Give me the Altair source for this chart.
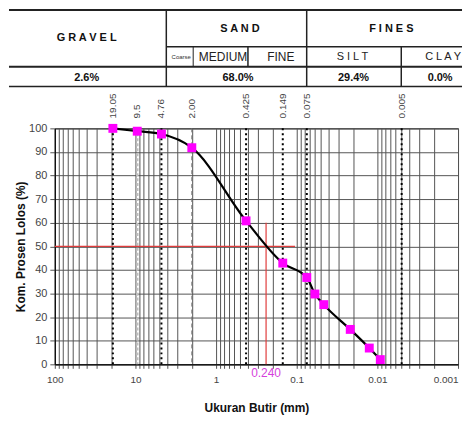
import altair as alt
import pandas as pd

FONT = "Liberation Sans"

# ---------------- data ----------------
sizes_mm = [19.05, 9.5, 4.76, 2.00, 0.425, 0.149, 0.075, 0.0595, 0.0462, 0.0217, 0.0126, 0.0092]
percent_passing = [100.0, 98.8, 97.6, 91.8, 60.8, 42.9, 36.8, 29.8, 25.3, 14.8, 6.9, 2.0]

sieve_sizes = [19.05, 9.5, 4.76, 2.00, 0.425, 0.149, 0.075, 0.005]
sieve_labels = ["19.05", "9.5", "4.76", "2.00", "0.425", "0.149", "0.075", "0.005"]
sieve_kind = ["dot", "light", "dot", "dash", "dot", "dot", "dot", "dot"]

d50_size = 0.240
d50_label = "0.240"
d50_percent = 50
d50_guide_top = 60
d50_guide_end = 0.105

y_tick_values = [0, 10, 20, 30, 40, 50, 60, 70, 80, 90, 100]
x_grid_values = [m * 10.0 ** e for e in range(-3, 2) for m in range(1, 10)] + [100.0]

header_labels = ["GRAVEL", "SAND", "FINES"]
sub_labels = ["MEDIUM", "FINE"]
sub_spaced_labels = ["SILT", "CLAY"]
coarse_label = "Coarse"
summary_labels = ["2.6%", "68.0%", "29.4%", "0.0%"]

# ---------------- table layout (reference pixel grid) ----------------
header_x = [86, 240, 392]
header_y = [35, 26, 26]
header_gap = [1, 1, 2]
sub_x = [223, 281]
spaced_x = [353, 444]
sub_y = 54
coarse_x = 181
summary_x = [86, 238, 354, 441]
summary_y = 75

t_lines = pd.DataFrame({
    "x":  [8, 166, 8, 8, 166, 307, 193, 248, 402],
    "x2": [463, 463, 463, 463, 166, 307, 193, 248, 402],
    "y":  [7, 44, 64, 84, 7, 7, 44, 44, 44],
    "y2": [7, 44, 64, 84, 84, 84, 64, 64, 84],
    "w":  [2, 1.5, 2, 1.5, 1.5, 1.5, 1, 1.5, 1.5],
})


def spaced(s, n=1):
    return (" " * n).join(list(s))


# table drawn in the same horizontal frame as the plot (plot spans 54..459)
tx = alt.Scale(domain=[54, 459], nice=False, zero=False)
ty = alt.Scale(domain=[6, 86], nice=False, zero=False, reverse=True)


def TX():
    return alt.X("x:Q", scale=tx, axis=None)


def TY():
    return alt.Y("y:Q", scale=ty, axis=None)


t_rules = alt.Chart(t_lines).mark_rule(color="#222").encode(
    x=TX(), x2="x2:Q", y=TY(), y2="y2:Q",
    strokeWidth=alt.StrokeWidth("w:Q", scale=None, legend=None),
)

hdr_df = pd.DataFrame({
    "x": header_x, "y": header_y,
    "t": [spaced(s, g) for s, g in zip(header_labels, header_gap)],
})
t_hdr = alt.Chart(hdr_df).mark_text(fontSize=11, fontWeight="bold", color="#111",
                                    baseline="middle").encode(x=TX(), y=TY(), text="t:N")

sub_df = pd.DataFrame({"x": sub_x, "y": [sub_y] * len(sub_x), "t": sub_labels})
t_sub = alt.Chart(sub_df).mark_text(fontSize=12, color="#222", baseline="middle").encode(
    x=TX(), y=TY(), text="t:N")

sp_df = pd.DataFrame({"x": spaced_x, "y": [sub_y] * len(spaced_x),
                      "t": [spaced(s) for s in sub_spaced_labels]})
t_sp = alt.Chart(sp_df).mark_text(fontSize=11, color="#222", baseline="middle").encode(
    x=TX(), y=TY(), text="t:N")

co_df = pd.DataFrame({"x": [coarse_x], "y": [sub_y], "t": [coarse_label]})
t_co = alt.Chart(co_df).mark_text(fontSize=6, color="#333", baseline="middle").encode(
    x=TX(), y=TY(), text="t:N")

sum_df = pd.DataFrame({"x": summary_x, "y": [summary_y] * len(summary_x), "t": summary_labels})
t_sum = alt.Chart(sum_df).mark_text(fontSize=11, fontWeight="bold", color="#111",
                                    baseline="middle").encode(x=TX(), y=TY(), text="t:N")

table = alt.layer(t_rules, t_hdr, t_sub, t_sp, t_co, t_sum).properties(
    width=405, height=80, view=alt.ViewBackground(stroke=None))

# ---------------- main plot ----------------
x_scale = alt.Scale(type="log", domain=[0.001, 100], reverse=True, nice=False)
y_scale = alt.Scale(domain=[0, 100], nice=False, zero=False)

x_axis = alt.Axis(
    values=x_grid_values, grid=True, gridColor="#555", gridWidth=1, gridOpacity=1,
    labelExpr="abs(log(datum.value)/LN10 - round(log(datum.value)/LN10)) < 0.001 ? format(datum.value, '~g') : ''",
    labelOverlap=False, labelFlush=False,
    labelAlign=alt.condition("datum.value < 0.0015", alt.value("right"), alt.value("center")),
    labelFontSize=10, labelColor="#444", labelPadding=6,
    tickSize=4, tickColor="#555", domainColor="#000",
    title="Ukuran Butir (mm)", titleFontSize=12, titleFontWeight="bold",
    titleColor="#111", titlePadding=18,
)
y_axis = alt.Axis(
    values=y_tick_values, grid=True, gridColor="#555", gridWidth=1, gridOpacity=1,
    labelFontSize=11, labelColor="#444", labelPadding=3, tickSize=5, tickColor="#555",
    domainColor="#000", title="Kom. Prosen Lolos (%)", titleFontSize=12,
    titleFontWeight="bold", titleColor="#111", titlePadding=1,
)


def X(f="d"):
    return alt.X(f"{f}:Q", scale=x_scale, axis=x_axis)


def Y(f="p"):
    return alt.Y(f"{f}:Q", scale=y_scale, axis=y_axis)


curve_df = pd.DataFrame({"d": sizes_mm, "p": percent_passing, "i": list(range(len(sizes_mm)))})
sieve_df = pd.DataFrame({"d": sieve_sizes, "label": sieve_labels, "kind": sieve_kind})

dot_rules = alt.Chart(sieve_df).transform_filter(alt.datum.kind == "dot").mark_rule(
    color="#000", strokeWidth=2, strokeDash=[2, 3]).encode(x=X())
light_rules = alt.Chart(sieve_df).transform_filter(alt.datum.kind == "light").mark_rule(
    color="#bdbdbd", strokeWidth=2.5, strokeDash=[3, 2]).encode(x=X())
dash_rules = alt.Chart(sieve_df).transform_filter(alt.datum.kind == "dash").mark_rule(
    color="#777", strokeWidth=1, strokeDash=[4, 3]).encode(x=X())

red_h = alt.Chart(pd.DataFrame({"d": [100.0], "d2": [d50_guide_end], "p": [d50_percent]})).mark_rule(
    color="#e03c3c", strokeWidth=1.2).encode(x=X(), x2="d2:Q", y=Y())
red_v = alt.Chart(pd.DataFrame({"d": [d50_size], "p": [0], "p2": [d50_guide_top]})).mark_rule(
    color="#e03c3c", strokeWidth=1.2).encode(x=X(), y=Y(), y2="p2:Q")

curve = alt.Chart(curve_df).mark_line(color="#000", strokeWidth=2.2, interpolate="monotone").encode(
    x=X(), y=Y(), order="i:Q")
points = alt.Chart(curve_df).mark_square(size=80, color="#ff00ff", opacity=1).encode(x=X(), y=Y())

sieve_text = alt.Chart(sieve_df).mark_text(
    angle=270, align="left", baseline="middle", fontSize=10, color="#444").encode(
    x=X(), y=alt.value(-10), text="label:N")

d50_text = alt.Chart(pd.DataFrame({"d": [d50_size], "t": [d50_label]})).mark_text(
    fontSize=12, color="#d63fdc", baseline="middle").encode(x=X(), y=alt.value(246), text="t:N")

spacer = alt.Chart(pd.DataFrame({"d": [1.0]})).mark_rule(opacity=0, strokeOpacity=0).encode(
    x=alt.value(-46), x2=alt.value(-45), y=alt.value(100), y2=alt.value(101))

main = alt.layer(
    curve.encode(opacity=alt.value(0)), dot_rules, light_rules, dash_rules, red_h, red_v,
    curve, points, sieve_text, d50_text, spacer,
).properties(width=405, height=237,
             view=alt.ViewBackground(stroke="#000", strokeWidth=1))

chart = alt.vconcat(table, main, spacing=4).properties(padding=0).configure(
    font=FONT).configure_view(stroke=None)

chart.save("out.html", embed_options={"renderer": "svg", "actions": False})
